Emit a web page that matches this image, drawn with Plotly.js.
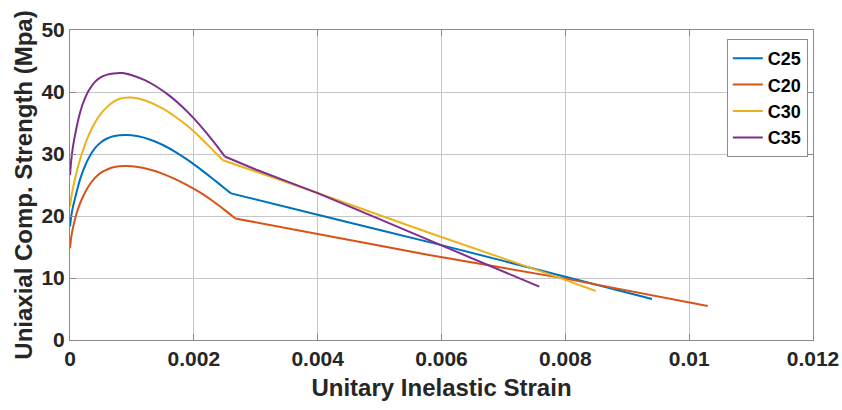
<!DOCTYPE html>
<html>
<head>
<meta charset="utf-8">
<script src="https://cdn.plot.ly/plotly-3.0.1.min.js"></script>
<style>html,body{margin:0;padding:0;background:#fff;}#chart{width:842px;height:410px;}</style>
</head>
<body>
<div id="chart"></div>
<script>
// Series names
const seriesNames = ["C25", "C20", "C30", "C35"];

// C25
const c25Strain = [0, 0.00002, 0.00005, 0.0001, 0.00015, 0.0002, 0.0003, 0.0004, 0.0005, 0.0006, 0.0007, 0.0009, 0.0011, 0.0013, 0.0015, 0.0017, 0.0019, 0.0021, 0.0023, 0.0025, 0.0026, 0.004, 0.006, 0.008, 0.0094];
const c25Stress = [18.3, 20.0, 21.6, 23.6, 25.5, 27.0, 29.3, 30.9, 31.9, 32.5, 32.85, 33.05, 32.85, 32.3, 31.45, 30.35, 29.05, 27.6, 26.05, 24.45, 23.65, 20.2, 15.3, 10.2, 6.6];

// C20
const c20Strain = [0, 0.00002, 0.00005, 0.0001, 0.00015, 0.0002, 0.0003, 0.0004, 0.0005, 0.0006, 0.0007, 0.0009, 0.0011, 0.0013, 0.0015, 0.0017, 0.0019, 0.0021, 0.0023, 0.0025, 0.00267, 0.004, 0.0058, 0.008, 0.0103];
const c20Stress = [14.8, 16.6, 18.2, 20.2, 21.7, 22.9, 24.8, 26.1, 27.0, 27.5, 27.85, 28.05, 27.9, 27.45, 26.8, 25.95, 24.95, 23.8, 22.45, 20.95, 19.6, 17.1, 13.7, 9.9, 5.5];

// C30
const c30Strain = [0, 0.00002, 0.00005, 0.0001, 0.00015, 0.0002, 0.0003, 0.0004, 0.0005, 0.0006, 0.0007, 0.0008, 0.00095, 0.0011, 0.0013, 0.0015, 0.0017, 0.0019, 0.0021, 0.0023, 0.00247, 0.004, 0.0058, 0.008, 0.00849];
const c30Stress = [21.5, 23.0, 24.6, 26.8, 28.7, 30.3, 33.0, 35.0, 36.5, 37.6, 38.4, 38.9, 39.1, 38.95, 38.3, 37.3, 36.0, 34.5, 32.7, 30.7, 29.0, 23.7, 17.3, 9.7, 7.9];

// C35
const c35Strain = [0, 0.00002, 0.00005, 0.0001, 0.00015, 0.0002, 0.0003, 0.0004, 0.0005, 0.0006, 0.0007, 0.00085, 0.001, 0.0012, 0.0014, 0.0016, 0.0018, 0.002, 0.0022, 0.0024, 0.0025, 0.003, 0.004, 0.0058, 0.00758];
const c35Stress = [26.6, 29.0, 31.3, 34.0, 36.2, 37.9, 40.2, 41.6, 42.4, 42.8, 43.0, 43.05, 42.7, 41.95, 40.85, 39.45, 37.75, 35.75, 33.45, 30.95, 29.6, 27.5, 23.7, 16.1, 8.6];

// Strain at which each curve switches from the curved branch to the straight branch
const kinkStrain = [0.0026, 0.00267, 0.00247, 0.0025];

// Tick labels
const xTickVals = [0, 0.002, 0.004, 0.006, 0.008, 0.01, 0.012];
const xTickText = ["0", "0.002", "0.004", "0.006", "0.008", "0.01", "0.012"];
const yTickVals = [0, 10, 20, 30, 40, 50];
const yTickText = ["0", "10", "20", "30", "40", "50"];

const colors = ["#0072BD", "#D95319", "#EDB120", "#7E2F8E"];
const xs = [c25Strain, c20Strain, c30Strain, c35Strain];
const ys = [c25Stress, c20Stress, c30Stress, c35Stress];

const traces = [];
seriesNames.forEach((n, i) => {
  const k = xs[i].indexOf(kinkStrain[i]);
  traces.push({
    type: "scatter", mode: "lines", name: n, legendgroup: "g" + i,
    x: xs[i].slice(0, k + 1), y: ys[i].slice(0, k + 1),
    line: {color: colors[i], width: 2, shape: "spline", smoothing: 0.5},
    hoverinfo: "skip"
  });
  traces.push({
    type: "scatter", mode: "lines", name: n, legendgroup: "g" + i, showlegend: false,
    x: xs[i].slice(k), y: ys[i].slice(k),
    line: {color: colors[i], width: 2, shape: "spline", smoothing: 0.3},
    hoverinfo: "skip"
  });
});

const FONT = "Liberation Sans, Arial, Helvetica, sans-serif";
const axisCommon = {
  showgrid: true,
  gridcolor: "#c6c6c6",
  gridwidth: 1,
  zeroline: false,
  showline: true,
  linecolor: "#8a8a8a",
  linewidth: 1,
  mirror: "ticks",
  ticks: "inside",
  ticklen: 6,
  tickcolor: "#8a8a8a",
  tickfont: {family: FONT, size: 21, color: "#262626", weight: "bold"},
  fixedrange: true
};

const layout = {
  width: 842,
  height: 410,
  margin: {l: 70, r: 29, t: 30, b: 70},
  paper_bgcolor: "#ffffff",
  plot_bgcolor: "#ffffff",
  font: {family: FONT, color: "#262626"},
  xaxis: Object.assign({}, axisCommon, {
    range: [0, 0.012],
    tickmode: "array",
    tickvals: xTickVals,
    ticktext: xTickText,
    title: {text: "Unitary Inelastic Strain", font: {family: FONT, size: 24, color: "#262626", weight: "bold"}, standoff: 9}
  }),
  yaxis: Object.assign({}, axisCommon, {
    range: [0, 50],
    tickmode: "array",
    tickvals: yTickVals,
    ticktext: yTickText,
    title: {text: "Uniaxial Comp. Strength (Mpa)", font: {family: FONT, size: 24, color: "#262626", weight: "bold"}, standoff: 2}
  }),
  showlegend: true,
  legend: {
    x: 0.884, y: 0.971, xanchor: "left", yanchor: "top",
    bgcolor: "#ffffff",
    bordercolor: "#8c8c8c",
    borderwidth: 1,
    font: {family: FONT, size: 18, color: "#000000", weight: "bold"},
    tracegroupgap: 0,
    itemwidth: 30,
    traceorder: "grouped"
  }
};

Plotly.newPlot("chart", traces, layout, {staticPlot: true, displayModeBar: false});
</script>
</body>
</html>
